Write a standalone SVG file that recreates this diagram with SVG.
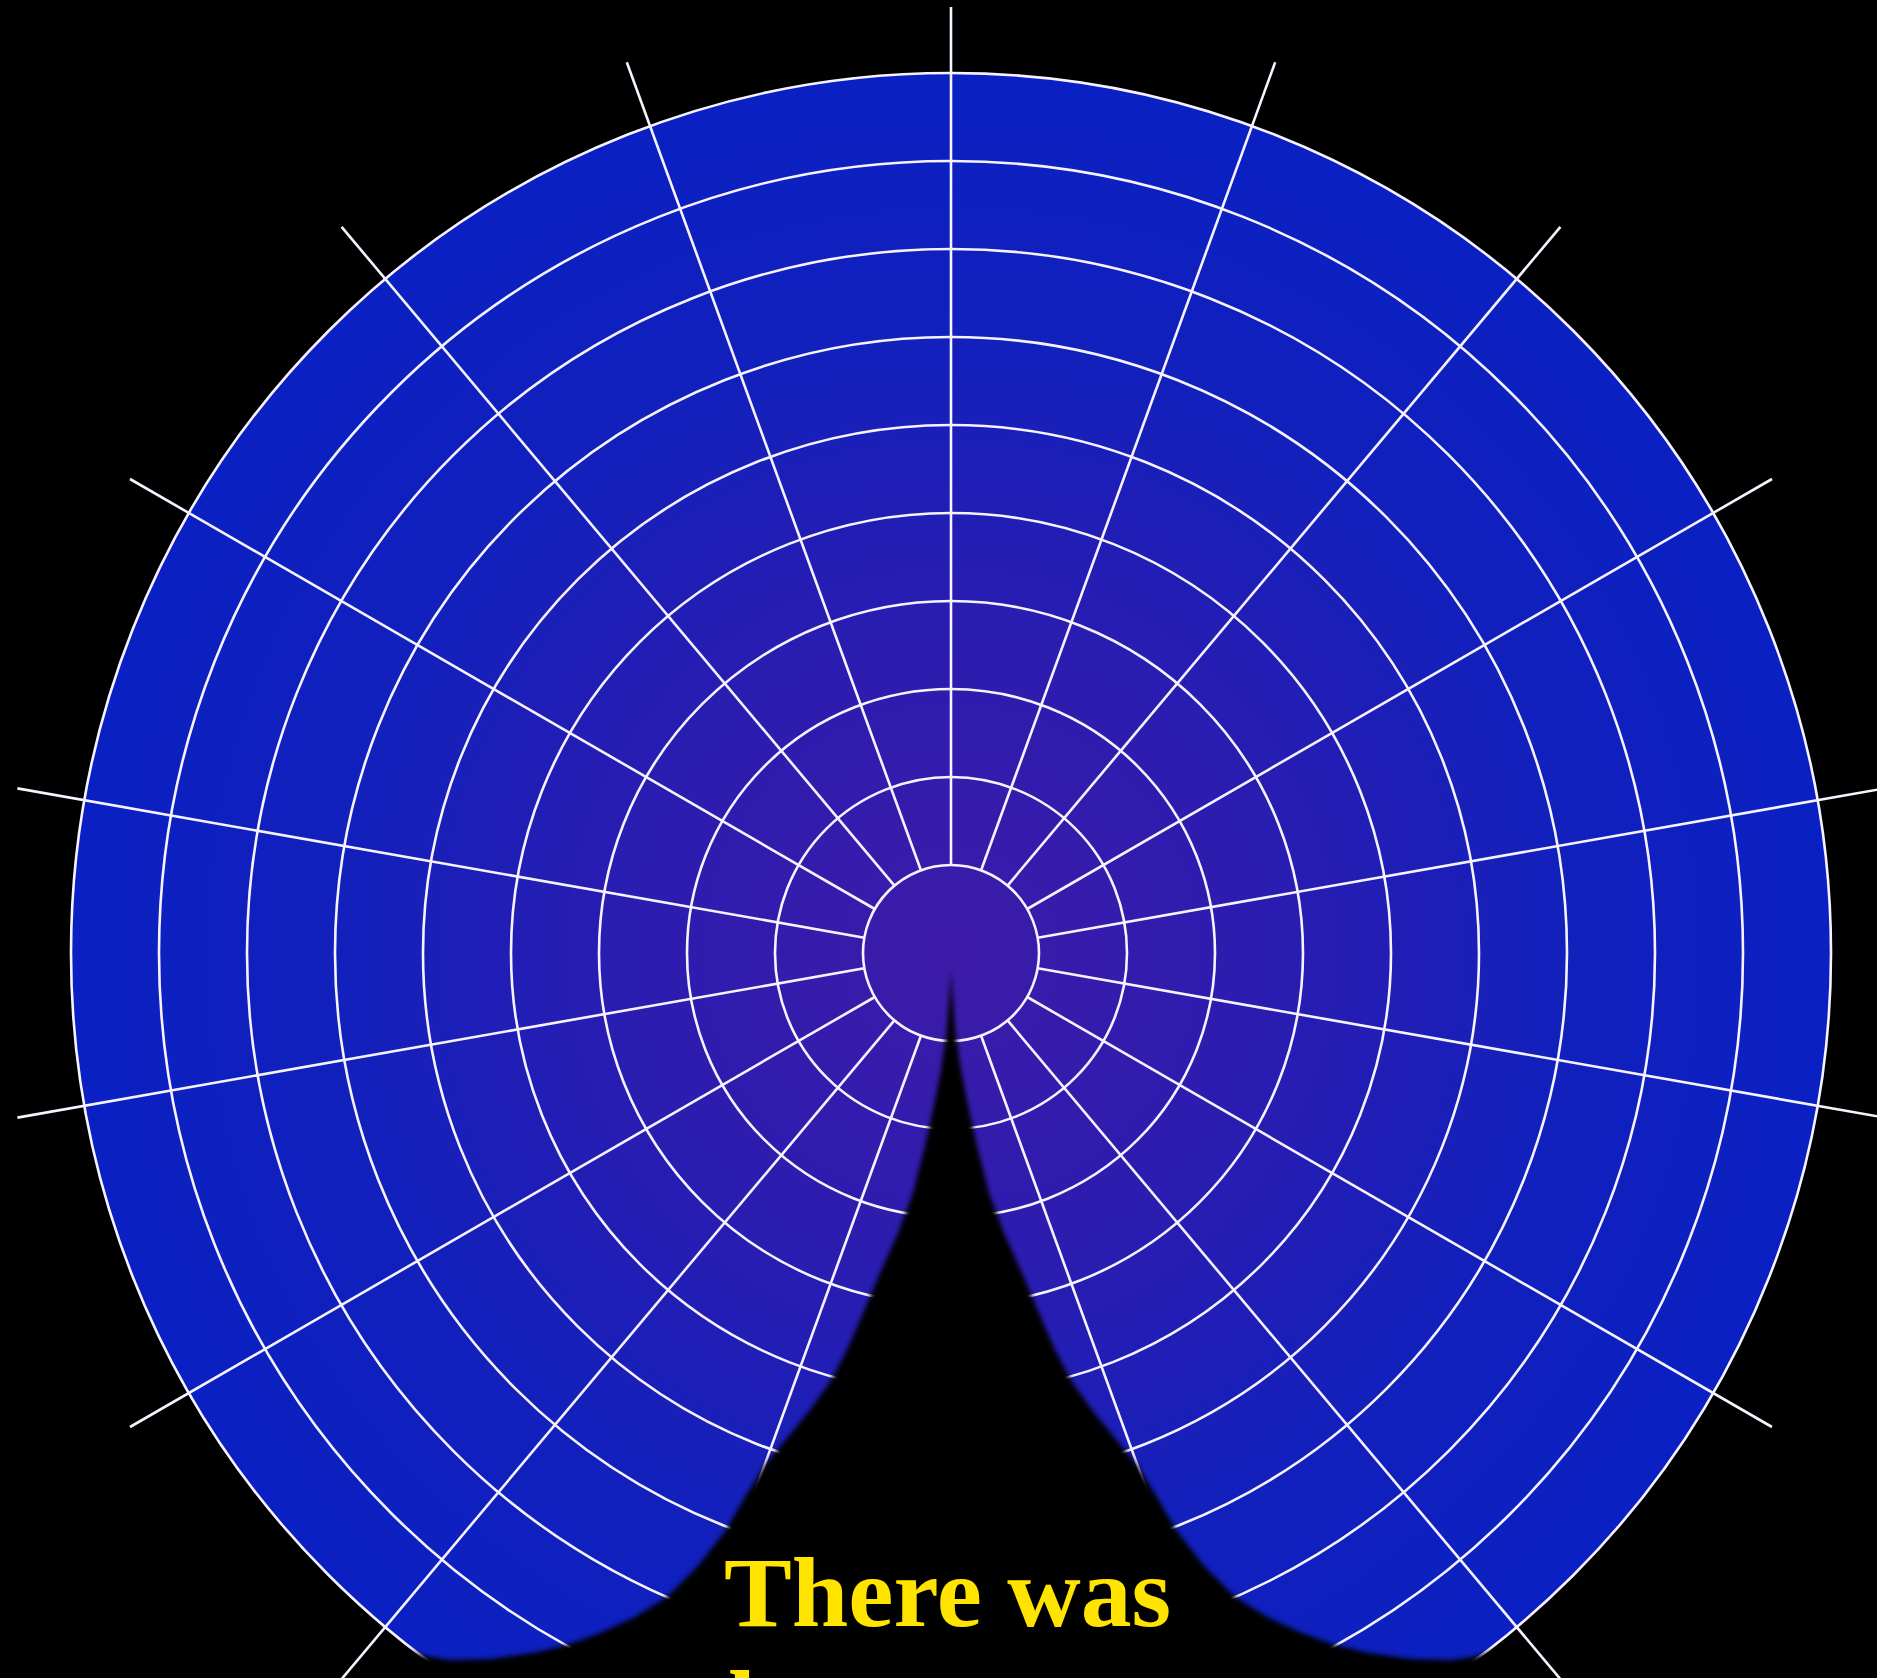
<svg xmlns="http://www.w3.org/2000/svg" width="1877" height="1678" viewBox="0 0 1877 1678">
<defs>
<radialGradient id="fillGrad" cx="951" cy="953" r="880" gradientUnits="userSpaceOnUse">
<stop offset="0" stop-color="#3D1BA8"/>
<stop offset="0.35" stop-color="#2C1CB0"/>
<stop offset="0.7" stop-color="#1220BC"/>
<stop offset="1" stop-color="#0A20C2"/>
</radialGradient>
<filter id="soft" x="-10%" y="-10%" width="120%" height="120%">
<feGaussianBlur stdDeviation="2.5"/>
</filter>
</defs>
<style>
.grid { fill: none; stroke: #F6F2FF; stroke-width: 2.6; }
.label { font-family: "Liberation Serif", "DejaVu Serif", serif; font-weight: bold; font-size: 100px; fill: #FFE400; }
</style>
<rect width="1877" height="1678" fill="#000000"/>
<circle cx="951" cy="953" r="880" fill="url(#fillGrad)"/>
<g id="grid" class="grid">
<g id="circles">
<circle cx="951" cy="953" r="88"/>
<circle cx="951" cy="953" r="176"/>
<circle cx="951" cy="953" r="264"/>
<circle cx="951" cy="953" r="352"/>
<circle cx="951" cy="953" r="440"/>
<circle cx="951" cy="953" r="528"/>
<circle cx="951" cy="953" r="616"/>
<circle cx="951" cy="953" r="704"/>
<circle cx="951" cy="953" r="792"/>
<circle cx="951" cy="953" r="880"/>
</g>
<g id="radials">
<line x1="951" y1="865" x2="951" y2="7"/>
<line x1="981.1" y1="870.3" x2="1275.2" y2="62.2"/>
<line x1="920.9" y1="870.3" x2="626.8" y2="62.2"/>
<line x1="1007.6" y1="885.6" x2="1560.4" y2="226.9"/>
<line x1="894.4" y1="885.6" x2="341.6" y2="226.9"/>
<line x1="1027.2" y1="909" x2="1772" y2="479"/>
<line x1="874.8" y1="909" x2="130" y2="479"/>
<line x1="1037.7" y1="937.7" x2="1884.6" y2="788.4"/>
<line x1="864.3" y1="937.7" x2="17.4" y2="788.4"/>
<line x1="1037.7" y1="968.3" x2="1884.6" y2="1117.6"/>
<line x1="864.3" y1="968.3" x2="17.4" y2="1117.6"/>
<line x1="1027.2" y1="997" x2="1772" y2="1427"/>
<line x1="874.8" y1="997" x2="130" y2="1427"/>
<line x1="1007.6" y1="1020.4" x2="1560.4" y2="1679.1"/>
<line x1="894.4" y1="1020.4" x2="341.6" y2="1679.1"/>
<line x1="981.1" y1="1035.7" x2="1275.2" y2="1843.8"/>
<line x1="920.9" y1="1035.7" x2="626.8" y2="1843.8"/>
</g>
</g>
<path id="notch" filter="url(#soft)" fill="#000000" d="M951,970 L949,1000 L946.5,1033 L941,1070 L933,1110 L924,1150 L913,1193 L898,1233 L880,1273 L864,1311 L847,1350 L830,1382 L810,1410 L788,1437 L765,1465 L745,1497 L726,1530 L698,1566 L667,1597 L635,1617 L600,1633 L567,1645 L533,1653 L490,1659 L450,1660 L425,1656 L405,1650 L395,1700 L1507,1700 L1497,1650 L1477,1656 L1452,1660 L1412,1659 L1369,1653 L1335,1645 L1302,1633 L1267,1617 L1235,1597 L1204,1566 L1176,1530 L1157,1497 L1137,1465 L1114,1437 L1092,1410 L1072,1382 L1055,1350 L1038,1311 L1022,1273 L1004,1233 L989,1193 L978,1150 L969,1110 L961,1070 L955.5,1033 L953,1000 Z"/>
<g id="caption">
<text class="label" x="724" y="1626" textLength="447" lengthAdjust="spacingAndGlyphs">There was</text>
<text class="label" x="728" y="1739">l</text>
</g>
</svg>
